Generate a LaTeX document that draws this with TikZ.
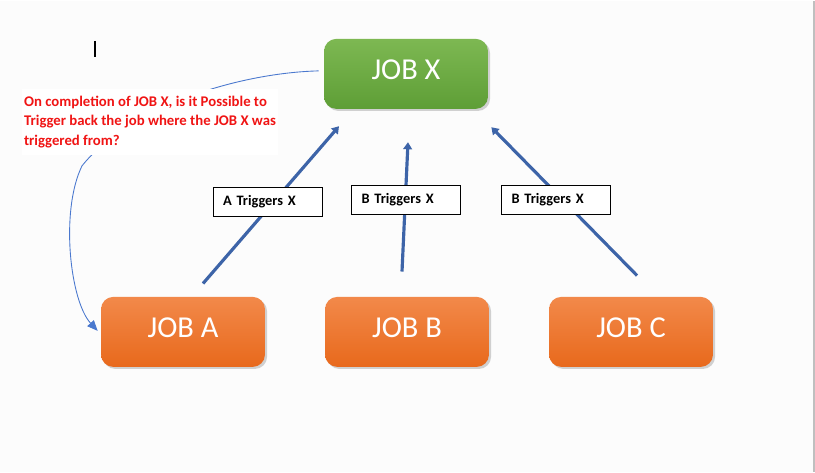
\documentclass[tikz,border=0pt]{standalone}
\usepackage{fontspec}
\setmainfont{Carlito}
\usepackage{xcolor}
\usetikzlibrary{arrows.meta,backgrounds,shadows}

\definecolor{jobgreenA}{HTML}{7DB852}
\definecolor{jobgreenB}{HTML}{5E9E36}
\definecolor{joborangeA}{HTML}{F2894A}
\definecolor{joborangeB}{HTML}{E8691C}
\definecolor{trigblue}{HTML}{3D64A8}
\definecolor{linkblue}{HTML}{4A78CE}
\definecolor{asktext}{HTML}{F01414}

\begin{document}
\begin{tikzpicture}[x=0.02cm, y=-0.02cm,
    job/.style={rectangle, rounded corners=7pt, minimum width=3.28cm, minimum height=1.4cm,
        font=\fontsize{17.3}{19}\selectfont, text=white, inner sep=0pt,
        text height=10pt, text depth=3.5pt,
        drop shadow={shadow xshift=1.2pt, shadow yshift=-1.2pt, fill=black!35, opacity=0.5}},
    greenjob/.style={job, top color=jobgreenA, bottom color=jobgreenB},
    orangejob/.style={job, top color=joborangeA, bottom color=joborangeB},
    triglabel/.style={rectangle, draw, thin, fill=white, minimum width=2.18cm, minimum height=0.58cm,
        font=\bfseries\fontsize{8.2}{10}\selectfont, text width=1.78cm, align=left, inner sep=0pt},
    trig/.style={-{Triangle[length=4pt,width=5pt]}, line width=1.8pt, trigblue},
    link/.style={-{Triangle[length=6pt,width=5pt]}, line width=0.5pt, linkblue},
]

% === PAGE ===
\draw[line width=0.7pt] (95,40) -- (95,56);

% === JOBS ===
\node[greenjob]  (jobx) at (406,73)  {JOB X};
\node[orangejob] (joba) at (183,331) {JOB A};
\node[orangejob] (jobb) at (407,331) {JOB B};
\node[orangejob] (jobc) at (631,331) {JOB C};

% === QUESTION ===
\node[anchor=north west, fill=white, align=left, inner xsep=1pt, inner ysep=4pt, text=asktext,
      font=\bfseries\fontsize{8.4}{11}\selectfont] (ask) at (22,88)
    {On completion of JOB X, is it Possible to\\
     Trigger back the job where the JOB X was\\
     triggered from?};

\begin{pgfonlayer}{background}
    \fill[white!99!black] (0,0) rectangle (815,471);
    \draw[black!25, line width=1pt] (814,0) -- (814,471);
    \draw[link] ([shift={(-5,-3)}]jobx.west)
        .. controls (240,72) and (130,105) .. (82,165)
        .. controls (60,210) and (70,300) .. ([shift={(-3,-1)}]joba.west);
\end{pgfonlayer}

% === TRIGGERS ===
\draw[trig] ([shift={(20,-13)}]joba.north) -- ([shift={(-67,17)}]jobx.south);
\draw[trig] ([shift={(-5,-25)}]jobb.north) -- ([shift={(2,33)}]jobx.south);
\draw[trig] ([shift={(6,-21)}]jobc.north) -- ([shift={(3,18)}]jobx.south east);

\node[triglabel] (trigA) at (267.5,200.5) {A Triggers X};
\node[triglabel] (trigB) at (406,198.5)   {B Triggers X};
\node[triglabel] (trigC) at (556,198.5)   {B Triggers X};

\end{tikzpicture}
\end{document}
